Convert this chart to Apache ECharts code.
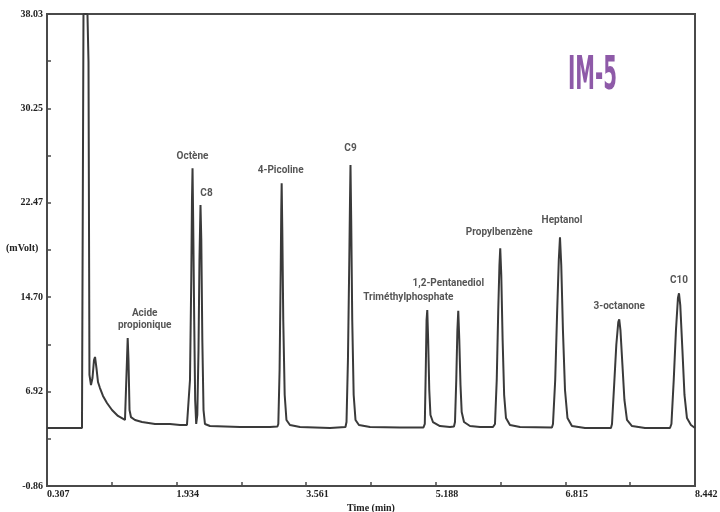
<!DOCTYPE html>
<html>
<head>
<meta charset="utf-8">
<title>IM-5</title>
<script src="https://cdn.jsdelivr.net/npm/echarts@6/dist/echarts.min.js"></script>
<style>
    html, body { margin: 0; padding: 0; background: #fff; }
    #main { width: 720px; height: 512px; }
</style>
</head>
<body>
<div id="main"></div>
<script>
// retention time (min) and detector signal (mVolt)
var time = [
    0.307, 0.746, 0.759, 0.765, 0.815, 0.828, 0.840, 0.859, 0.878, 0.897,
    0.910, 0.928, 0.947, 0.972, 1.010, 1.060, 1.123, 1.198, 1.286, 1.299,
    1.311, 1.320, 1.330, 1.343, 1.361, 1.412, 1.500, 1.663, 1.851, 1.977,
    2.064,
    2.083, 2.102, 2.118, 2.127, 2.134, 2.142, 2.155, 2.167, 2.180,
    2.194, 2.209, 2.221, 2.234, 2.244, 2.257, 2.272, 2.290, 2.353, 2.730,
    3.106, 3.200,
    3.211, 3.227, 3.241, 3.248, 3.253, 3.261, 3.273, 3.291, 3.313, 3.357,
    3.483, 3.860, 4.054,
    4.067, 4.085, 4.102, 4.111, 4.117, 4.126, 4.139, 4.157, 4.180, 4.223,
    4.362, 4.738, 5.033,
    5.050, 5.062, 5.072, 5.081, 5.092, 5.106, 5.121, 5.152, 5.240, 5.366,
    5.416,
    5.429, 5.445, 5.459, 5.470, 5.483, 5.498, 5.513, 5.542, 5.617, 5.743,
    5.906,
    5.931, 5.953, 5.972, 5.987, 5.997, 6.010, 6.027, 6.046, 6.069, 6.119,
    6.245, 6.646,
    6.659, 6.687, 6.712, 6.732, 6.747, 6.763, 6.784, 6.810, 6.841, 6.897,
    7.061, 7.387,
    7.400, 7.427, 7.454, 7.479, 7.491, 7.506, 7.531, 7.556, 7.588, 7.651,
    7.814, 8.128,
    8.146, 8.175, 8.203, 8.228, 8.241, 8.257, 8.284, 8.310, 8.341, 8.391,
    8.442
];
var signal = [
    3.92, 3.92, 4.00, 38.03, 38.03, 34.07, 8.29, 7.46, 8.04, 9.52,
    9.77, 8.86, 7.71, 7.21, 6.56, 5.98, 5.40, 4.91, 4.58, 4.66,
    9.52, 11.33, 9.52, 5.40, 4.82, 4.58, 4.41, 4.25, 4.25, 4.17,
    4.17,
    4.25, 7.87, 16.11, 22.70, 25.32, 21.06, 12.82, 6.23, 4.25,
    4.99, 10.35, 17.76, 22.29, 19.41, 11.17, 5.40, 4.25, 4.08, 4.00,
    4.00, 4.04,
    4.25, 8.70, 16.94, 21.88, 24.08, 20.23, 12.82, 6.64, 4.58, 4.17,
    4.00, 3.92, 4.00,
    4.41, 9.52, 17.76, 22.70, 25.59, 21.06, 12.82, 6.64, 4.58, 4.17,
    4.00, 3.96, 3.96,
    4.25, 8.70, 12.82, 13.64, 11.17, 7.05, 4.99, 4.41, 4.08, 4.00,
    4.04,
    4.41, 7.87, 11.99, 13.58, 11.17, 7.46, 5.24, 4.41, 4.08, 4.00,
    4.00,
    4.25, 7.87, 13.64, 17.35, 18.72, 16.52, 11.17, 6.64, 4.74, 4.17,
    4.00, 3.96,
    4.25, 7.87, 13.64, 17.76, 19.63, 17.35, 11.99, 7.05, 4.74, 4.08,
    3.92, 3.92,
    4.25, 7.46, 10.76, 12.65, 12.87, 11.99, 9.11, 6.23, 4.58, 4.08,
    3.92, 3.92,
    4.25, 7.87, 11.99, 14.63, 15.02, 14.05, 10.35, 6.64, 4.74, 4.17,
    3.92
];

// identified compounds: name, retention time, apex height
var peakNames = ['Acide\npropionique', 'Octène', 'C8', '4-Picoline', 'C9',
    'Triméthylphosphate', '1,2-Pentanediol', 'Propylbenzène', 'Heptanol',
    '3-octanone', 'C10'];
var peakTimes = [1.320, 2.134, 2.234, 3.253, 4.117, 5.081, 5.470, 5.997, 6.747, 7.491, 8.241];
var peakHeights = [11.33, 25.32, 22.29, 24.08, 25.59, 13.64, 13.58, 18.72, 19.63, 12.87, 15.02];

// axis tick labels
var xTicks = [0.307, 1.934, 3.561, 5.188, 6.815, 8.442];
var yTicks = [-0.86, 6.92, 14.70, 22.47, 30.25, 38.03];

// where each compound name sits relative to its apex (px)
var labelOffsets = [[17, -19], [0, -12], [6, -12], [-1, -13], [0, -16],
    [-19, -13], [-10, -27], [-1, -16], [2, -17], [0, -13], [0, -13]];

function withMidpoints(ticks) {
    var res = [];
    for (var i = 0; i < ticks.length; i++) {
        res.push(ticks[i]);
        if (i < ticks.length - 1) res.push((ticks[i] + ticks[i + 1]) / 2);
    }
    return res;
}

var myChart = echarts.init(document.getElementById('main'));

var serifLabel = {
    fontFamily: 'Liberation Serif',
    fontWeight: 'bold',
    fontSize: 10,
    color: '#222'
};

var option = {
    backgroundColor: '#fff',
    animation: false,
    grid: {
        left: 47, right: 25, top: 14, bottom: 26,
        outerBoundsMode: 'none',
        containLabel: false,
        show: true,
        borderColor: '#4a4a4a',
        borderWidth: 2
    },
    xAxis: {
        type: 'value',
        min: 0.307,
        max: 8.442,
        name: 'Time (min)',
        nameLocation: 'middle',
        nameGap: 16,
        nameTextStyle: serifLabel,
        splitLine: { show: false },
        axisLine: { onZero: false, lineStyle: { color: '#4a4a4a', width: 2 } },
        axisTick: {
            inside: true,
            length: 4,
            customValues: withMidpoints(xTicks),
            lineStyle: { color: '#4a4a4a', width: 1.5 }
        },
        axisLabel: {
            customValues: xTicks,
            align: 'left',
            margin: 3,
            formatter: function (v) { return v.toFixed(3); },
            fontFamily: serifLabel.fontFamily,
            fontWeight: serifLabel.fontWeight,
            fontSize: serifLabel.fontSize,
            color: serifLabel.color
        }
    },
    yAxis: {
        type: 'value',
        min: -0.86,
        max: 38.03,
        splitLine: { show: false },
        axisLine: { onZero: false, lineStyle: { color: '#4a4a4a', width: 2 } },
        axisTick: {
            inside: true,
            length: 4,
            customValues: withMidpoints(yTicks),
            lineStyle: { color: '#4a4a4a', width: 1.5 }
        },
        axisLabel: {
            customValues: yTicks,
            margin: 4,
            formatter: function (v) { return v.toFixed(2); },
            fontFamily: serifLabel.fontFamily,
            fontWeight: serifLabel.fontWeight,
            fontSize: serifLabel.fontSize,
            color: serifLabel.color
        }
    },
    graphic: [
        {
            type: 'text',
            left: 6,
            top: 243,
            style: {
                text: '(mVolt)',
                font: 'bold 10px "Liberation Serif"',
                fill: '#222'
            }
        },
        {
            type: 'text',
            x: 568,
            y: 54,
            scaleX: 0.43,
            style: {
                text: 'IM-5',
                font: 'bold 46px "DejaVu Sans"',
                fill: '#8e5aa8'
            }
        }
    ],
    series: [
        {
            name: 'signal',
            type: 'line',
            showSymbol: false,
            smooth: false,
            clip: true,
            lineStyle: { color: '#3a3a3a', width: 2 },
            data: time.map(function (t, i) { return [t, signal[i]]; })
        },
        {
            name: 'peaks',
            type: 'scatter',
            symbolSize: 0,
            silent: true,
            data: peakNames.map(function (n, i) {
                return {
                    name: n,
                    value: [peakTimes[i], peakHeights[i]],
                    label: { offset: labelOffsets[i] }
                };
            }),
            label: {
                show: true,
                position: 'inside',
                formatter: '{b}',
                fontFamily: 'Roboto',
                fontWeight: 'bold',
                fontSize: 10,
                lineHeight: 12,
                color: '#2a2a2a'
            }
        }
    ]
};

myChart.setOption(option);
</script>
</body>
</html>
